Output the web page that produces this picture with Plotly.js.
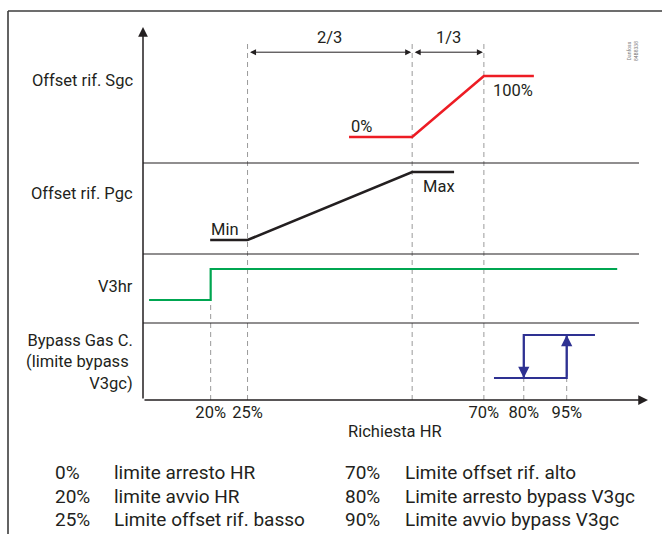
<!DOCTYPE html>
<html><head><meta charset="utf-8">
<script src="https://cdn.plot.ly/plotly-3.0.1.min.js"></script>
<style>html,body{margin:0;padding:0;background:#fff}#chart{width:662px;height:534px}</style>
</head><body><div id="chart"></div>
<script>
// ---- data (schematic "Richiesta HR" positions, 0–100 along the axis) ----
const tickPos    = [13.4, 20.7, 67.5, 75.4, 83.9];
const tickLabels = ['20%', '25%', '70%', '80%', '95%'];
const guideFull  = [20.7, 53.3, 67.5];      // dashed guides reaching the top
const guideV3hr  = [13.4];                   // dashed guide up to V3hr low level
const guideByp   = [75.4, 83.9];             // dashed guides up to bypass low level

// Offset rif. Sgc (0% .. 100%)
const sgcX = [40.8, 53.3, 67.5, 77.4];
const sgcY = [0, 0, 100, 100];
// Offset rif. Pgc (Min = 0, Max = 100)
const pgcX = [13.3, 20.7, 53.3, 61.6];
const pgcY = [0, 0, 100, 100];
// V3hr (0 = off, 1 = on)
const v3hrX = [1.2, 13.4, 13.4, 93.9];
const v3hrY = [0, 0, 1, 1];
// Bypass Gas C. hysteresis (0 = off, 1 = on)
const bypX = [69.5, 83.9, 83.9, 89.5, null, 83.9, 75.4, 75.4];
const bypY = [0, 0, 1, 1, null, 1, 1, 0];
const bypStop  = 75.4;   // 80 %
const bypStart = 83.9;   // 95 %

// dimension marks
const dimSpans  = [[20.7, 53.3], [53.3, 67.5]];
const dimLabels = ['2/3', '1/3'];

// legend table
const legendPct  = ['0%', '20%', '25%', '70%', '80%', '90%'];
const legendDesc = ['limite arresto HR', 'limite avvio HR', 'Limite offset rif. basso',
                    'Limite offset rif. alto', 'Limite arresto bypass V3gc', 'Limite avvio bypass V3gc'];

// ---- layout helpers ----
const W = 662, H = 534, L = 143, R = 14, T = 27, B = 134;
const PW = W - L - R, PH = H - T - B;
const px2x = p => (p - L) / PW;
const px2y = p => (H - B - p) / PH;

const FONT = 'Roboto, "Noto Sans", sans-serif';
const INK = '#231f20';
const RED = '#ed1c24', GREEN = '#00a651', BLUE = '#2e3192', GUIDE = '#9a9a9a';

const domSgc = [px2y(163), 1];
const domPgc = [px2y(254), px2y(163)];
const domV3  = [px2y(323), px2y(254)];
const domByp = [0, px2y(323)];
const rngSgc = [-42.6, 180.3];
const rngPgc = [-20.6, 113.2];
const rngV3  = [-0.742, 1.484];
const rngByp = [-0.512, 1.279];
const toPaper = (dom, rng, v) => dom[0] + (v - rng[0]) / (rng[1] - rng[0]) * (dom[1] - dom[0]);

const hidden = {showgrid:false, zeroline:false, showline:false, showticklabels:false, ticks:'', fixedrange:true};

const traces = [
  {x: sgcX, y: sgcY, yaxis:'y',  mode:'lines', line:{color:RED, width:2.6}, hoverinfo:'skip'},
  {x: pgcX, y: pgcY, yaxis:'y2', mode:'lines', line:{color:INK, width:2.6}, hoverinfo:'skip'},
  {x: v3hrX, y: v3hrY, yaxis:'y3', mode:'lines', line:{color:GREEN, width:2.2}, hoverinfo:'skip'},
  {x: bypX, y: bypY, yaxis:'y4', mode:'lines', line:{color:BLUE, width:2.2}, hoverinfo:'skip', connectgaps:false}
];

const shapes = [];
// outer frame (top + left visible)
shapes.push({type:'line', xref:'paper', yref:'paper', x0:px2x(8), x1:px2x(670), y0:px2y(11), y1:px2y(11), line:{color:'#3c3c3c', width:1.6}});
shapes.push({type:'line', xref:'paper', yref:'paper', x0:px2x(8), x1:px2x(8), y0:px2y(11), y1:px2y(540), line:{color:'#3c3c3c', width:1.6}});
// panel separators
[domSgc[0], domPgc[0], domV3[0]].forEach(y => shapes.push({type:'line', xref:'paper', yref:'paper',
  x0:0, x1:px2x(639), y0:y, y1:y, line:{color:INK, width:1.2}}));
// dashed guides
const dash = {color:GUIDE, width:1, dash:'5px,4px'};
guideFull.forEach(x => shapes.push({type:'line', xref:'x', yref:'paper', x0:x, x1:x, y0:0, y1:px2y(40), line:dash, layer:'below'}));
guideV3hr.forEach(x => shapes.push({type:'line', xref:'x', yref:'paper', x0:x, x1:x, y0:0, y1:toPaper(domV3, rngV3, 0), line:dash, layer:'below'}));
guideByp.forEach(x => shapes.push({type:'line', xref:'x', yref:'paper', x0:x, x1:x, y0:0, y1:toPaper(domByp, rngByp, 0), line:dash, layer:'below'}));

const txt = (text, xp, yp, xanchor, size, extra) => Object.assign({text, xref:'paper', yref:'paper',
  x:px2x(xp), y:px2y(yp), xanchor, yanchor:'middle', showarrow:false,
  font:{family:FONT, size, color:INK}}, extra || {});

const ann = [];
// axes arrows
ann.push({xref:'paper', yref:'paper', x:0, y:1, ax:0, ay:PH, axref:'pixel', ayref:'pixel', text:'', showarrow:true,
  arrowhead:2, arrowsize:1.3, arrowwidth:1.5, arrowcolor:INK, standoff:0});
ann.push({xref:'paper', yref:'paper', x:1, y:0, ax:-PW, ay:0, axref:'pixel', ayref:'pixel', text:'', showarrow:true,
  arrowhead:2, arrowsize:1.3, arrowwidth:1.5, arrowcolor:INK, standoff:0});
// dimension arrows
const dimY = 139;
dimSpans.forEach((s, i) => {
  ann.push({xref:'x', yref:'y', axref:'x', ayref:'y', x:s[1], y:dimY, ax:s[0], ay:dimY, text:'', showarrow:true,
    arrowside:'end+start', arrowhead:2, startarrowhead:2, arrowsize:1.2, startarrowsize:1.2, arrowwidth:1, arrowcolor:INK, standoff:1, startstandoff:1});
  ann.push({xref:'x', yref:'paper', x:(s[0] + s[1]) / 2, y:px2y(37), text:dimLabels[i], showarrow:false,
    xanchor:'center', yanchor:'middle', font:{family:FONT, size:16.5, color:INK}});
});
// bypass arrows
ann.push({xref:'x', yref:'y4', axref:'x', ayref:'y4', x:bypStop, y:0, ax:bypStop, ay:1, text:'', showarrow:true,
  arrowhead:2, arrowsize:1.4, arrowwidth:1.6, arrowcolor:BLUE, standoff:0});
ann.push({xref:'x', yref:'y4', axref:'x', ayref:'y4', x:bypStart, y:1, ax:bypStart, ay:0, text:'', showarrow:true,
  arrowhead:2, arrowsize:1.4, arrowwidth:1.6, arrowcolor:BLUE, standoff:0});
// curve labels
ann.push(txt('0%', 349, 127, 'left', 16.5));
ann.push(txt('100%', 491, 90, 'left', 16.5));
ann.push(txt('Min', 209, 229, 'left', 16.5));
ann.push(txt('Max', 421, 187, 'left', 16.5));
// panel labels
ann.push(txt('Offset rif. Sgc', 135, 80, 'right', 16.5));
ann.push(txt('Offset rif. Pgc', 135, 193, 'right', 16.5));
ann.push(txt('V3hr', 135, 286, 'right', 16.5));
ann.push(txt('Bypass Gas C.<br>(limite bypass <br>V3gc)', 135, 362, 'right', 16.5, {align:'right'}));
// x-axis caption
ann.push(txt('Richiesta HR', 395, 431, 'center', 16.5));
// watermark
ann.push(txt('Danfoss<br>84B8338', 632, 51, 'center', 5, {textangle:-90, font:{family:FONT, size:5, color:'#777'}}));
// legend table
legendPct.forEach((p, i) => {
  const col = i < 3 ? 0 : 1, row = i % 3;
  const y = 473 + row * 23;
  ann.push(txt(p, col ? 343 : 53, y, 'left', 19));
  ann.push(txt(legendDesc[i], col ? 403 : 112, y, 'left', 19));
});

const layout = {
  width:W, height:H, margin:{l:L, r:R, t:T, b:B, pad:0},
  paper_bgcolor:'#fff', plot_bgcolor:'rgba(0,0,0,0)', showlegend:false,
  xaxis:{range:[0, 100], domain:[0, 1], anchor:'y4', showgrid:false, zeroline:false, showline:false, ticks:'',
    tickvals:tickPos, ticktext:tickLabels, tickfont:{family:FONT, size:16.5, color:INK}, fixedrange:true},
  yaxis: Object.assign({domain:domSgc, range:rngSgc, anchor:'x'}, hidden),
  yaxis2:Object.assign({domain:domPgc, range:rngPgc, anchor:'x'}, hidden),
  yaxis3:Object.assign({domain:domV3,  range:rngV3,  anchor:'x'}, hidden),
  yaxis4:Object.assign({domain:domByp, range:rngByp, anchor:'x'}, hidden),
  shapes, annotations:ann
};
Plotly.newPlot('chart', traces, layout, {staticPlot:true, displayModeBar:false});
</script></body></html>
